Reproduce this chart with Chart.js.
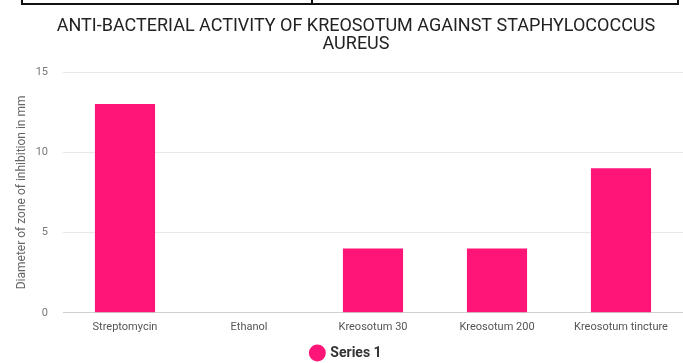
<!DOCTYPE html>
<html>
<head>
<meta charset="utf-8">
<script src="https://cdn.jsdelivr.net/npm/chart.js@4/dist/chart.umd.min.js"></script>
<style>
  html, body { margin: 0; padding: 0; background: #fff; }
  #wrap { position: relative; width: 683px; height: 363px; }
  #tbl { position: absolute; left: 21px; top: -20px; width: 654px; height: 21px;
         border: 2px solid #111; box-sizing: content-box; }
  #tbl div { position: absolute; left: 288px; top: 0; width: 2px; height: 100%; background: #111; }
</style>
</head>
<body>
<div id="wrap">
  <canvas id="chart" width="683" height="363"></canvas>
  <div id="tbl"><div></div></div>
</div>
<script>
const categories = ['Streptomycin', 'Ethanol', 'Kreosotum 30', 'Kreosotum 200', 'Kreosotum tincture'];
const series1 = [13, 0, 4, 4, 9];
const yTicks = [0, 5, 10, 15];
const titleLines = ['ANTI-BACTERIAL ACTIVITY OF KREOSOTUM AGAINST STAPHYLOCOCCUS', 'AUREUS'];

// title drawn a bit right of the canvas centre, like the original
const titlePlugin = {
    id: 'titleText',
    afterDraw(chart) {
        const c = chart.ctx;
        c.save();
        c.font = '18px Roboto';
        c.fillStyle = '#222';
        c.textAlign = 'center';
        c.textBaseline = 'middle';
        titleLines.forEach((t, i) => c.fillText(t, 356, 26 + i * 18));
        c.restore();
    }
};

const ctx = document.getElementById('chart').getContext('2d');
new Chart(ctx, {
    type: 'bar',
    data: {
        labels: categories,
        datasets: [{
            label: 'Series 1',
            data: series1,
            backgroundColor: '#ff1577',
            borderWidth: 0,
            barPercentage: 0.97,
            categoryPercentage: 0.5
        }]
    },
    plugins: [titlePlugin],
    options: {
        responsive: false,
        animation: false,
        layout: { padding: { left: 10, right: 0, top: 72, bottom: -7 } },
        plugins: {
            title: { display: false },
            legend: {
                position: 'bottom',
                labels: {
                    usePointStyle: true,
                    pointStyle: 'circle',
                    boxWidth: 12,
                    boxHeight: 12,
                    color: '#333',
                    font: { family: 'Roboto', size: 14, weight: 'bold' },
                    padding: 4
                }
            },
            tooltip: { enabled: false }
        },
        scales: {
            x: {
                grid: { display: false, drawTicks: false },
                border: { display: true, color: '#d0d0d0' },
                ticks: { color: '#555', font: { family: 'Roboto', size: 11 }, padding: 8 }
            },
            y: {
                min: 0,
                max: 15,
                afterBuildTicks: (axis) => { axis.ticks = yTicks.map(v => ({ value: v })); },
                afterFit: (axis) => { axis.width = 53; },
                grid: { color: '#e8e8e8', drawTicks: false },
                border: { display: false },
                ticks: { color: '#777', font: { family: 'Roboto', size: 11 }, padding: 15 },
                title: {
                    display: true,
                    text: 'Diameter of zone of inhibition in mm',
                    color: '#666',
                    font: { family: 'Roboto', size: 12 },
                    padding: { top: 5, bottom: 7 }
                }
            }
        }
    }
});
</script>
</body>
</html>
